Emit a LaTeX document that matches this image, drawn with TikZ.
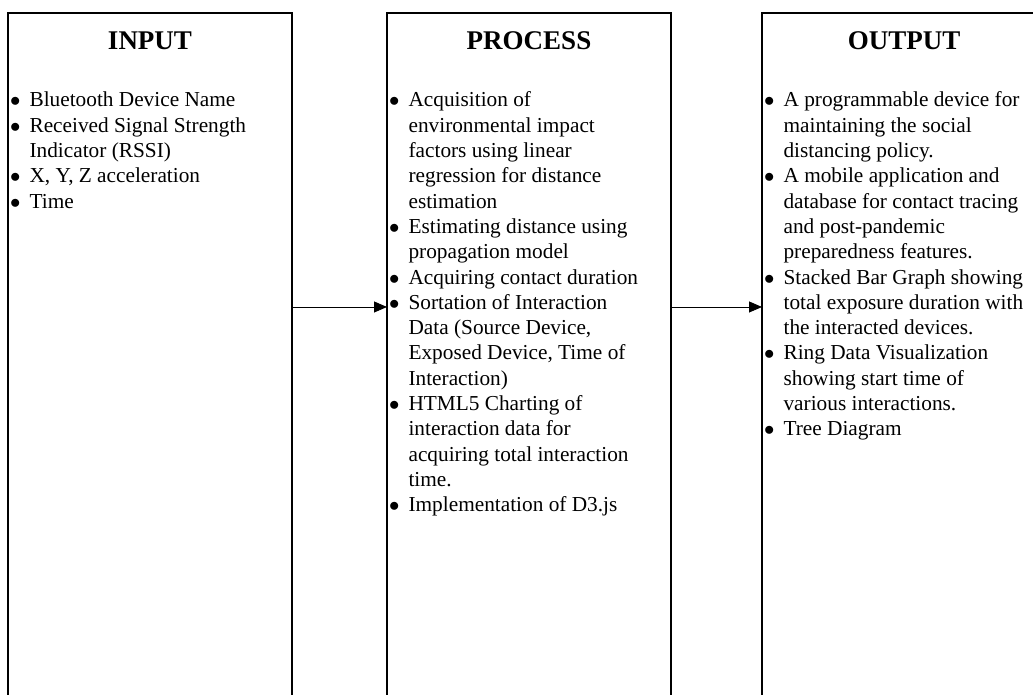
\documentclass[tikz,border=0pt]{standalone}
\usepackage{fontspec}
\setmainfont{Liberation Serif}
\usetikzlibrary{arrows.meta, positioning}
\tikzstyle{stage} = [
    rectangle, 
    draw=black, 
    line width=1.6pt,
    minimum width=284pt, 
    minimum height=720pt,
    inner sep=0pt,
    outer sep=0pt
]
\tikzstyle{heading} = [
    font=\fontsize{27}{32}\selectfont\bfseries,
    inner sep=0pt
]
\tikzstyle{items} = [
    font=\fontsize{21.3}{25.3}\selectfont,
    inner sep=0pt
]
\tikzstyle{arrow} = [line width=0.9pt,-{Triangle[length=13pt,width=11pt]}]
\newcommand{\bul}{$\bullet$}

\begin{document}
\begin{tikzpicture}[x=1pt, y=1pt]
\useasboundingbox (0,0) rectangle (1033,695);
\clip (0,0) rectangle (1033,695);

% Boxes
\node (input) [stage, anchor=north west] at (8,682) {};
\node (process) [stage, right=95pt of input.north east, anchor=north west] {};
\node (output) [stage, right=91pt of process.north east, anchor=north west] {};

% Headings
\node (inhead) [heading, below=37pt of input.north, anchor=base] {INPUT};
\node (prochead) [heading, below=37pt of process.north, anchor=base] {PROCESS};
\node (outhead) [heading, below=37pt of output.north, anchor=base] {OUTPUT};

% Lists
\node (inlist) [items, below right=94pt and 2pt of input.north west, anchor=base west] {%
\begin{tabular}[t]{@{}l@{\hspace{9pt}}l@{}}
\bul & Bluetooth Device Name\\
\bul & Received Signal Strength\\
     & Indicator (RSSI)\\
\bul & X, Y, Z acceleration\\
\bul & Time
\end{tabular}};
\node (proclist) [items, below right=94pt and 2pt of process.north west, anchor=base west] {%
\begin{tabular}[t]{@{}l@{\hspace{9pt}}l@{}}
\bul & Acquisition of\\
     & environmental impact\\
     & factors using linear\\
     & regression for distance\\
     & estimation\\
\bul & Estimating distance using\\
     & propagation model\\
\bul & Acquiring contact duration\\
\bul & Sortation of Interaction\\
     & Data (Source Device,\\
     & Exposed Device, Time of\\
     & Interaction)\\
\bul & HTML5 Charting of\\
     & interaction data for\\
     & acquiring total interaction\\
     & time.\\
\bul & Implementation of D3.js
\end{tabular}};
\node (outlist) [items, below right=94pt and 2pt of output.north west, anchor=base west] {%
\begin{tabular}[t]{@{}l@{\hspace{9pt}}l@{}}
\bul & A programmable device for\\
     & maintaining the social\\
     & distancing policy.\\
\bul & A mobile application and\\
     & database for contact tracing\\
     & and post-pandemic\\
     & preparedness features.\\
\bul & Stacked Bar Graph showing\\
     & total exposure duration with\\
     & the interacted devices.\\
\bul & Ring Data Visualization\\
     & showing start time of\\
     & various interactions.\\
\bul & Tree Diagram
\end{tabular}};

% Arrows
\draw [arrow] ([yshift=-294pt]input.north east) -- ([yshift=-294pt]process.north west);
\draw [arrow] ([yshift=-294pt]process.north east) -- ([yshift=-294pt]output.north west);

\end{tikzpicture}
\end{document}
